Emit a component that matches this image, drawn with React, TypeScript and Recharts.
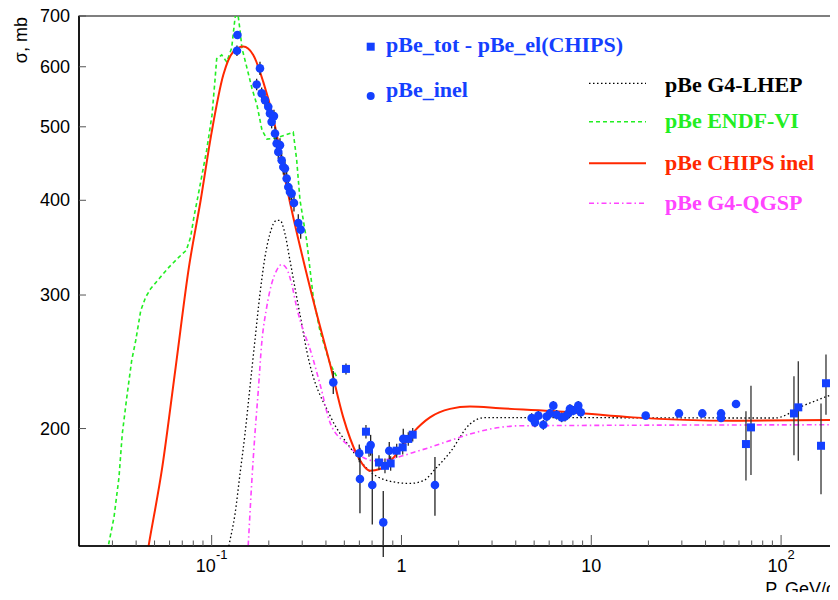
import {
    ComposedChart,
    Line,
    Scatter,
    XAxis,
    YAxis,
    ErrorBar,
    ReferenceArea
} from "recharts";

// curves: [P (GeV/c), sigma (mb)]
const chipsInel: [number, number][] = [
    [0.0455, 135.5], [0.0467, 140.8], [0.0549, 177.7], [0.0646, 240.9], [0.0759, 326.5],
    [0.0875, 400], [0.1, 492], [0.1151, 585], [0.13, 628], [0.1467, 638], [0.1656, 622],
    [0.187, 573], [0.2112, 513], [0.2485, 416.5], [0.343, 295], [0.42, 243.4],
    [0.4935, 206.9], [0.5807, 185.1], [0.6823, 176], [0.7702, 176.9], [0.9434, 185.1],
    [1.154, 197.7], [1.413, 206.9], [1.801, 212.3], [2.296, 213.8], [3.3, 212.7],
    [8, 210], [16.6, 206.9], [55.8, 204.8], [190, 205.3]
];

const endfVI: [number, number][] = [
    [0.0277, 135], [0.02877, 141.5], [0.03057, 152.7], [0.03248, 172.4], [0.0338, 196.7],
    [0.0359, 222.2], [0.0379, 245.9], [0.0398, 261.3], [0.0423, 286.2], [0.0449, 298.1],
    [0.0477, 305.8], [0.0528, 315.2], [0.0596, 326.5], [0.0672, 336.6], [0.0735, 343.6],
    [0.0775, 357.8], [0.0806, 380], [0.0839, 400], [0.0941, 465.6], [0.1004, 518],
    [0.1041, 576], [0.1063, 615], [0.1129, 622], [0.12, 609], [0.1274, 634.6],
    [0.1327, 695], [0.1359, 720], [0.141, 671], [0.1444, 635], [0.1535, 597.6],
    [0.163, 562], [0.1733, 534], [0.1841, 495], [0.1956, 481.6], [0.2156, 483],
    [0.2433, 487.5], [0.269, 492], [0.2805, 452], [0.292, 400], [0.3166, 354],
    [0.343, 298], [0.372, 269], [0.42, 243.6], [0.4574, 233.7]
];

const g4Lhep: [number, number][] = [
    [0.12, 135], [0.1238, 140.8], [0.1327, 154.2], [0.141, 174.2], [0.1498, 196.7],
    [0.1591, 226.7], [0.169, 261.3], [0.1797, 301.2], [0.1909, 336.6], [0.2028, 361.4],
    [0.22, 376.4], [0.229, 376.4], [0.2433, 361.4], [0.2585, 333.3], [0.2805, 298],
    [0.298, 274.9], [0.3166, 253.5], [0.4201, 208], [0.5356, 188.9], [0.7101, 174.2],
    [0.9434, 169.8], [1.108, 169.3], [1.303, 170.7], [1.533, 177.7], [1.801, 186],
    [2.296, 202.8], [2.754, 206.8], [92.9, 206.5], [131, 214.4], [190, 222.3]
];

const g4Qgsp: [number, number][] = [
    [0.1544, 135], [0.1559, 140.8], [0.1624, 169], [0.169, 196.7], [0.176, 224.4],
    [0.1834, 258.7], [0.1949, 289], [0.207, 310.4], [0.22, 323.3], [0.2338, 329.2],
    [0.2484, 325], [0.2638, 310.4], [0.2805, 289], [0.3039, 269.3], [0.3228, 258.7],
    [0.372, 229], [0.42, 203.8], [0.5145, 190.8], [0.629, 183.2], [0.7101, 181.4],
    [0.9434, 183.2], [1.154, 186], [1.413, 188.9], [1.801, 192.8], [2.296, 196.7],
    [3.3, 200.7], [4.21, 201.7], [190, 202.3]
];

// measured points: [P, sigma, error]
const pBeInel: [number, number, number][] = [
    [0.1367, 660.7, 8], [0.1359, 630, 10], [0.1797, 597, 12], [0.1726, 568.6, 10],
    [0.1834, 553.4, 10], [0.1909, 542.2, 10], [0.1987, 531.4, 10], [0.2028, 520.8, 10],
    [0.2129, 516.5, 10], [0.207, 507.6, 10], [0.2156, 489.9, 10], [0.22, 475.3, 10],
    [0.229, 472.9, 10], [0.2244, 463.3, 10], [0.2338, 451.8, 10], [0.2384, 442.6, 10],
    [0.2433, 440.5, 10], [0.2484, 427.3, 10], [0.2533, 416.5, 10], [0.2585, 410.2, 10],
    [0.2638, 408.2, 10], [0.2714, 396.7, 10], [0.286, 373.3, 10], [0.2944, 365.9, 10],
    [0.4372, 230.1, 8], [0.5993, 185.5, 5], [0.6043, 171.6, 17], [0.688, 190.2, 6],
    [0.7017, 168.5, 19], [0.8017, 150.4, 15], [0.8623, 187, 5], [1.022, 193.8, 6],
    [1.501, 168.5, 15],
    [4.85, 206.5, 3], [5.05, 203.8, 3], [5.26, 208, 3], [5.59, 202.3, 3], [5.82, 207.4, 3],
    [6.06, 209.4, 3], [6.31, 214.4, 3], [6.57, 208.6, 3], [6.98, 206.9, 3], [7.27, 207.4, 3],
    [7.57, 209.4, 3], [7.72, 212.3, 3], [8.04, 211.2, 3], [8.54, 214.4, 3], [8.8, 210.1, 3],
    [19.35, 208, 2], [28.97, 209.4, 2], [38.45, 209.4, 2], [48.26, 209.4, 2],
    [48.26, 206.5, 2], [57.88, 215.5, 2]
];

const pBeTotMinusEl: [number, number, number][] = [
    [0.51, 239.7, 4], [0.65, 198.1, 4], [0.6743, 187.6, 4], [0.761, 180.4, 4],
    [0.8186, 178.6, 4], [0.877, 179.9, 4], [0.9434, 187, 4], [1.015, 188.9, 4],
    [1.086, 193.8, 4], [1.146, 196.3, 4],
    [65.3, 190.8, 20], [69.4, 200.7, 27], [116.9, 209.4, 25], [123.2, 213.3, 32],
    [162.3, 189.8, 26], [172.4, 229.5, 21]
];

const xMajor = [0.1, 1, 10, 100];
const xMajorLabels: [string, string][] = [["10", "-1"], ["1", ""], ["10", ""], ["10", "2"]];
const xMinor = [
    0.03, 0.04, 0.05, 0.06, 0.07, 0.08, 0.09,
    0.2, 0.3, 0.4, 0.5, 0.6, 0.7, 0.8, 0.9,
    2, 3, 4, 5, 6, 7, 8, 9,
    20, 30, 40, 50, 60, 70, 80, 90
];
const yTicks = [200, 300, 400, 500, 600, 700];

const markerLegend = [
    { label: "pBe_tot - pBe_el(CHIPS)", shape: "square" },
    { label: "pBe_inel", shape: "circle" }
];
const lineLegend = [
    { label: "pBe G4-LHEP", color: "#000000", dash: "1.5 2.5", width: 1.3 },
    { label: "pBe ENDF-VI", color: "#22ee22", dash: "4 3", width: 1.6 },
    { label: "pBe CHIPS inel", color: "#ff2800", dash: "", width: 2 },
    { label: "pBe G4-QGSP", color: "#ff44ff", dash: "5 3 1.5 3", width: 1.6 }
];

const BLUE = "#1440ff";
const SANS = "'Liberation Sans', Arial, Helvetica, sans-serif";
const SERIF = "'Liberation Serif', 'Times New Roman', serif";

const toXY = (arr: [number, number][]) => arr.map(([x, y]) => ({ x, y }));
const toXYE = (arr: [number, number, number][]) => arr.map(([x, y, err]) => ({ x, y, err }));

function XTick(props: any) {
    const { x, y, payload } = props;
    const i = xMajor.indexOf(payload.value);
    const major = i >= 0;
    return (
        <g>
            <line x1={x} x2={x} y1={y} y2={y - (major ? 11 : 5.5)} stroke="#555" strokeWidth={1} />
            {major && (
                <text x={x} y={y + 26} textAnchor="middle" fontSize={18} fontFamily={SANS} fill="#000">
                    {xMajorLabels[i][0]}
                    {xMajorLabels[i][1] ? <tspan dy={-13} fontSize={13}>{xMajorLabels[i][1]}</tspan> : null}
                </text>
            )}
        </g>
    );
}

function YTick(props: any) {
    const { x, y, payload } = props;
    return (
        <g>
            <line x1={x} x2={x + 7} y1={y} y2={y} stroke="#555" strokeWidth={1} />
            <text x={x - 9} y={y + 6} textAnchor="end" fontSize={18} fontFamily={SANS} fill="#000">
                {payload.value}
            </text>
        </g>
    );
}

const circleShape = (p: any) => <circle cx={p.cx} cy={p.cy} r={4.3} fill={BLUE} />;
const squareShape = (p: any) => <rect x={p.cx - 4} y={p.cy - 4} width={8} height={8} fill={BLUE} />;

export default function App() {
    const W = 838;
    const H = 600;
    return (
        <div style={{ position: "relative", width: W, height: H, margin: -8 }}>
            <ComposedChart width={W} height={H} margin={{ top: 16, right: 4, left: 19, bottom: 24 }}>
                <XAxis
                    dataKey="x"
                    type="number"
                    scale="log"
                    domain={[0.02, 190]}
                    allowDataOverflow
                    ticks={[...xMinor, ...xMajor].sort((a, b) => a - b)}
                    interval={0}
                    tick={<XTick />}
                    tickLine={false}
                    tickSize={0}
                    tickMargin={0}
                    height={30}
                    axisLine={{ stroke: "#000", strokeWidth: 1.5 }}
                />
                <YAxis
                    dataKey="y"
                    type="number"
                    scale="log"
                    domain={[140, 700]}
                    allowDataOverflow
                    ticks={yTicks}
                    interval={0}
                    tick={<YTick />}
                    tickLine={false}
                    tickSize={0}
                    tickMargin={0}
                    width={60}
                    axisLine={{ stroke: "#000", strokeWidth: 1.5 }}
                />
                <ReferenceArea x1={0.02} x2={190} y1={140} y2={700} fill="none" stroke="#000" strokeWidth={1.2} />
                <Line data={toXY(g4Lhep)} dataKey="y" type="monotone" stroke="#000" strokeWidth={1.3}
                      strokeDasharray="1.5 2.5" dot={false} isAnimationActive={false} />
                <Line data={toXY(g4Qgsp)} dataKey="y" type="monotone" stroke="#ff44ff" strokeWidth={1.6}
                      strokeDasharray="5 3 1.5 3" dot={false} isAnimationActive={false} />
                <Line data={toXY(endfVI)} dataKey="y" type="linear" stroke="#22ee22" strokeWidth={1.6}
                      strokeDasharray="4 3" dot={false} isAnimationActive={false} />
                <Line data={toXY(chipsInel)} dataKey="y" type="monotone" stroke="#ff2800" strokeWidth={2}
                      dot={false} isAnimationActive={false} />
                <Scatter data={toXYE(pBeTotMinusEl)} dataKey="y" shape={squareShape} isAnimationActive={false}>
                    <ErrorBar dataKey="err" direction="y" width={0} stroke="#333" strokeWidth={1.3} />
                </Scatter>
                <Scatter data={toXYE(pBeInel)} dataKey="y" shape={circleShape} isAnimationActive={false}>
                    <ErrorBar dataKey="err" direction="y" width={0} stroke="#222" strokeWidth={1.3} />
                </Scatter>
            </ComposedChart>

            <svg width={W} height={H} style={{ position: "absolute", left: 0, top: 0, pointerEvents: "none" }}>
                <text transform="translate(27,17) rotate(-90)" textAnchor="end" fontSize={18} fontFamily={SANS}>
                    σ, mb
                </text>
                <text x={835} y={595} textAnchor="end" fontSize={18} fontFamily={SANS}>
                    P, GeV/c
                </text>

                {markerLegend.map((m, i) => {
                    const cy = i === 0 ? 46.7 : 96;
                    const by = i === 0 ? 52.3 : 97.3;
                    return (
                        <g key={m.label}>
                            {m.shape === "square" ? (
                                <rect x={366.7} y={cy - 4} width={8} height={8} fill={BLUE} />
                            ) : (
                                <circle cx={370.7} cy={cy} r={4} fill={BLUE} />
                            )}
                            <text x={386} y={by} fontSize={22} fontWeight="bold" fontFamily={SERIF} fill={BLUE}>
                                {m.label}
                            </text>
                        </g>
                    );
                })}

                {lineLegend.map((l, i) => {
                    const ly = [83.3, 121.7, 163.3, 203.3][i];
                    const ty = [91.7, 128.3, 170, 210][i];
                    return (
                        <g key={l.label}>
                            <line x1={589} x2={646} y1={ly} y2={ly} stroke={l.color}
                                  strokeWidth={l.width} strokeDasharray={l.dash || undefined} />
                            <text x={665} y={ty} fontSize={22} fontWeight="bold" fontFamily={SERIF} fill={l.color}>
                                {l.label}
                            </text>
                        </g>
                    );
                })}
            </svg>
        </div>
    );
}
